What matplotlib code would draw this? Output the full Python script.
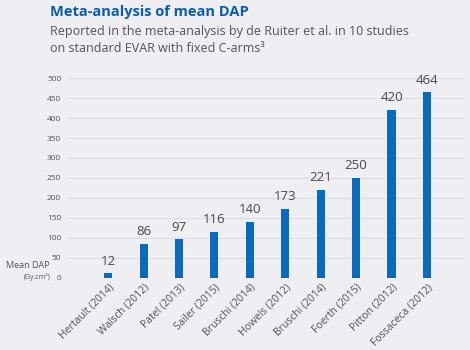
import matplotlib
matplotlib.use("Agg")
import matplotlib.pyplot as plt

plt.rcParams['font.family'] = ['Open Sans', 'DejaVu Sans']

studies = ["Hertault (2014)", "Walsch (2012)", "Patel (2013)", "Sailer (2015)",
           "Bruschi (2014)", "Howels (2012)", "Bruschi (2014)", "Foerth (2015)",
           "Pitton (2012)", "Fossaceca (2012)"]
dap = [12, 86, 97, 116, 140, 173, 221, 250, 420, 464]
yticks = [0, 50, 100, 150, 200, 250, 300, 350, 400, 450, 500]

bg = "#eeeef3"
bar_color = "#0a6bbd"
fig = plt.figure(figsize=(4.7, 3.5), dpi=100, facecolor=bg)
ax = fig.add_axes([0.145, 0.206, 0.844, 0.571], facecolor=bg)

x = list(range(len(studies)))
ax.bar(x, dap, width=0.23, color=bar_color, zorder=3)
for xi, v in zip(x, dap):
    ax.text(xi, v + 14, str(v), ha='center', va='bottom', fontsize=9.5, color="#4a4a4a")

ax.set_ylim(0, 500)
ax.set_xlim(-1.13, 10.07)
ax.set_yticks(yticks)
ax.set_yticklabels([str(t) for t in yticks], fontsize=6, color="#555555")
ax.yaxis.grid(True, color="#dcdce2", linewidth=0.8, zorder=0)
ax.tick_params(axis='y', length=0, pad=5)
ax.tick_params(axis='x', length=0, pad=3)
ax.set_xticks(x)
ax.set_xticklabels(studies, rotation=45, ha='right', rotation_mode='anchor',
                   fontsize=7.5, color="#555555")
for s in ax.spines.values():
    s.set_visible(False)

fig.text(50/470, 1 - 12/350, "Meta-analysis of mean DAP", fontsize=10.5,
         fontweight='bold', color="#0a5cb0", va='center', ha='left')
fig.text(50/470, 1 - 32/350, "Reported in the meta-analysis by de Ruiter et al. in 10 studies",
         fontsize=9, color="#555555", va='center', ha='left')
fig.text(50/470, 1 - 49/350, "on standard EVAR with fixed C-arms³",
         fontsize=9, color="#555555", va='center', ha='left')
fig.text(6/470, 1 - 265/350, "Mean DAP", fontsize=6.5, color="#555555", va='center', ha='left')
fig.text(50/470, 1 - 277/350, "(Gy.cm²)", fontsize=5, color="#555555", va='center', ha='right')

fig.savefig("out.png", dpi=100, facecolor=bg)
